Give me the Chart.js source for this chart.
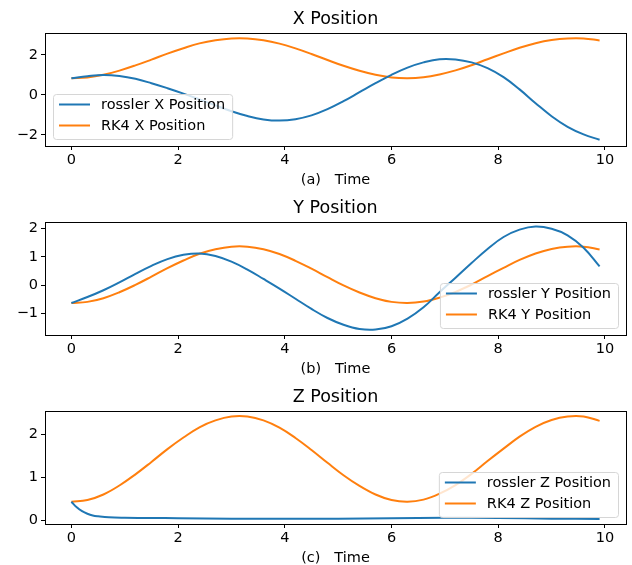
<!DOCTYPE html>
<html>
<head>
<meta charset="utf-8">
<script src="https://cdn.jsdelivr.net/npm/chart.js@4"></script>
<style>
  body { margin: 0; background: #fff; }
  canvas { position: absolute; left: 0; }
</style>
</head>
<body>
<canvas id="xChart" width="632" height="189" style="top:0px"></canvas>
<canvas id="yChart" width="632" height="189" style="top:189px"></canvas>
<canvas id="zChart" width="632" height="189" style="top:378px"></canvas>
<script>
// sample times (step 0.3)
const times = [0, 0.3, 0.6, 0.9, 1.2, 1.5, 1.8, 2.1, 2.4, 2.7, 3.0, 3.3, 3.6, 3.9, 4.2, 4.5, 4.8,
               5.1, 5.4, 5.7, 6.0, 6.3, 6.6, 6.9, 7.2, 7.5, 7.8, 8.1, 8.4, 8.7, 9.0, 9.3, 9.6, 9.9];

const rosslerX = [0.83, 0.93, 0.99, 0.94, 0.80, 0.58, 0.33, 0.06, -0.23, -0.53, -0.82, -1.06, -1.23, -1.29, -1.22, -1.03, -0.72,
                  -0.32, 0.13, 0.58, 1.00, 1.36, 1.62, 1.78, 1.77, 1.62, 1.33, 0.88, 0.27, -0.42, -1.07, -1.60, -1.98, -2.25];
const rk4X = [0.83, 0.87, 1.00, 1.21, 1.47, 1.76, 2.06, 2.33, 2.57, 2.73, 2.82, 2.82, 2.73, 2.56, 2.32, 2.04, 1.74,
              1.45, 1.20, 1.00, 0.87, 0.83, 0.88, 1.02, 1.22, 1.48, 1.78, 2.07, 2.35, 2.58, 2.74, 2.82, 2.82, 2.72];

const rosslerY = [-0.63, -0.42, -0.18, 0.10, 0.40, 0.68, 0.92, 1.07, 1.12, 1.03, 0.83, 0.55, 0.22, -0.12, -0.48, -0.84, -1.16,
                  -1.40, -1.55, -1.57, -1.45, -1.18, -0.78, -0.25, 0.26, 0.78, 1.28, 1.70, 1.96, 2.07, 1.99, 1.76, 1.32, 0.66];
const rk4Y = [-0.63, -0.59, -0.46, -0.25, 0.01, 0.30, 0.60, 0.87, 1.11, 1.27, 1.36, 1.36, 1.27, 1.10, 0.86, 0.58, 0.28,
              -0.01, -0.26, -0.46, -0.59, -0.63, -0.58, -0.44, -0.24, 0.02, 0.32, 0.61, 0.89, 1.12, 1.28, 1.36, 1.36, 1.26];

// rossler z drops fast at the start, so it gets its own finer times
const rosslerZTimes = [0, 0.1, 0.2, 0.3, 0.4, 0.5, 0.7, 1.0, 1.5, 2, 3, 4, 5, 6, 7, 8, 9, 9.9];
const rosslerZ = [0.43, 0.30, 0.21, 0.15, 0.11, 0.09, 0.065, 0.055, 0.05, 0.045, 0.035, 0.03, 0.035, 0.045, 0.055, 0.05, 0.035, 0.027];
const rk4Z = [0.43, 0.47, 0.60, 0.81, 1.07, 1.36, 1.66, 1.93, 2.17, 2.33, 2.42, 2.42, 2.33, 2.16, 1.92, 1.64, 1.34,
              1.05, 0.80, 0.60, 0.47, 0.43, 0.48, 0.62, 0.82, 1.08, 1.38, 1.67, 1.95, 2.18, 2.34, 2.42, 2.42, 2.32];

const xTicks = [0, 2, 4, 6, 8, 10];
const yTicksX = [-2, 0, 2];
const yTicksY = [-1, 0, 1, 2];
const yTicksZ = [0, 1, 2];

const BLUE = '#1f77b4';
const ORANGE = '#ff7f0e';
const FONT = "'DejaVu Sans'";

Chart.defaults.font.family = FONT;
Chart.defaults.color = '#000';

// matplotlib style box around the axes
const frame = {
    id: 'frame',
    afterDatasetsDraw(chart) {
        const { ctx, chartArea: a } = chart;
        ctx.save();
        ctx.strokeStyle = '#000';
        ctx.lineWidth = 1;
        ctx.strokeRect(Math.round(a.left) + 0.5, Math.round(a.top) + 0.5,
                       Math.round(a.right - a.left), Math.round(a.bottom - a.top));
        ctx.restore();
    }
};

// legend box drawn inside the plot, like plt.legend()
const boxLegend = {
    id: 'boxLegend',
    afterDraw(chart, args, opts) {
        const { ctx, chartArea: a } = chart;
        const sets = chart.data.datasets;
        ctx.save();
        ctx.font = '14.5px ' + FONT;
        const textW = Math.max(...sets.map(d => ctx.measureText(d.label).width));
        const w = 48 + textW + 7;
        const h = 45;
        const x = opts.side === 'left' ? a.left + 8 : a.right - 8 - w;
        const y = a.bottom - 7 - h;
        ctx.beginPath();
        ctx.roundRect(x + 0.5, y + 0.5, w, h, 3);
        ctx.fillStyle = 'rgba(255,255,255,0.8)';
        ctx.fill();
        ctx.strokeStyle = '#d6d6d6';
        ctx.lineWidth = 1;
        ctx.stroke();
        sets.forEach((d, i) => {
            const ly = y + 10.5 + i * 21;
            ctx.beginPath();
            ctx.moveTo(x + 6, ly);
            ctx.lineTo(x + 37, ly);
            ctx.strokeStyle = d.borderColor;
            ctx.lineWidth = 2;
            ctx.stroke();
            ctx.fillStyle = '#000';
            ctx.textBaseline = 'middle';
            ctx.fillText(d.label, x + 48, ly + 1);
        });
        ctx.restore();
    }
};

function minusLabel(v) {
    return v < 0 ? '\u2212' + Math.abs(v) : String(v);
}

function series(label, t, v, color) {
    return {
        label: label,
        data: t.map((tt, i) => ({ x: tt, y: v[i] })),
        borderColor: color,
        backgroundColor: color,
        borderWidth: 2,
        pointRadius: 0,
        tension: 0.4,
        fill: false
    };
}

function makeChart(id, title, xLabel, datasets, yMin, yMax, yTicks, side) {
    const tickFont = { size: 14.5 };
    return new Chart(document.getElementById(id), {
        type: 'line',
        data: { datasets: datasets },
        options: {
            responsive: false,
            animation: false,
            devicePixelRatio: 1,
            layout: { padding: { left: 0, right: 6, top: 0, bottom: 0 } },
            plugins: {
                legend: { display: false },
                tooltip: { enabled: false },
                title: {
                    display: true,
                    text: title,
                    fullSize: false,
                    color: '#000',
                    font: { size: 17.5, weight: 'normal', lineHeight: 1.2 },
                    padding: { top: 9, bottom: 3 }
                },
                boxLegend: { side: side }
            },
            scales: {
                x: {
                    type: 'linear',
                    min: -0.495,
                    max: 10.395,
                    afterBuildTicks: axis => { axis.ticks = xTicks.map(v => ({ value: v })); },
                    afterFit: axis => { axis.height = 43; },
                    ticks: { font: tickFont, color: '#000', padding: 2, maxRotation: 0, callback: minusLabel },
                    grid: { drawOnChartArea: false, drawTicks: true, tickLength: 4, color: '#000' },
                    border: { display: false },
                    title: { display: true, text: xLabel, color: '#000', font: { size: 14.5, lineHeight: 1.2 }, padding: { top: 2, bottom: 0 } }
                },
                y: {
                    min: yMin,
                    max: yMax,
                    afterBuildTicks: axis => { axis.ticks = yTicks.map(v => ({ value: v })); },
                    afterFit: axis => { axis.width = 45; },
                    ticks: { font: tickFont, color: '#000', padding: 3, callback: minusLabel },
                    grid: { drawOnChartArea: false, drawTicks: true, tickLength: 4, color: '#000' },
                    border: { display: false }
                }
            }
        },
        plugins: [frame, boxLegend]
    });
}

document.addEventListener('DOMContentLoaded', function () {
    makeChart('xChart', 'X Position', '(a)   Time', [
        series('rossler X Position', times, rosslerX, BLUE),
        series('RK4 X Position', times, rk4X, ORANGE)
    ], -2.56, 3.09, yTicksX, 'left');

    makeChart('yChart', 'Y Position', '(b)   Time', [
        series('rossler Y Position', times, rosslerY, BLUE),
        series('RK4 Y Position', times, rk4Y, ORANGE)
    ], -1.76, 2.23, yTicksY, 'right');

    makeChart('zChart', 'Z Position', '(c)   Time', [
        series('rossler Z Position', rosslerZTimes, rosslerZ, BLUE),
        series('RK4 Z Position', times, rk4Z, ORANGE)
    ], -0.09, 2.55, yTicksZ, 'right');
});
</script>
</body>
</html>
